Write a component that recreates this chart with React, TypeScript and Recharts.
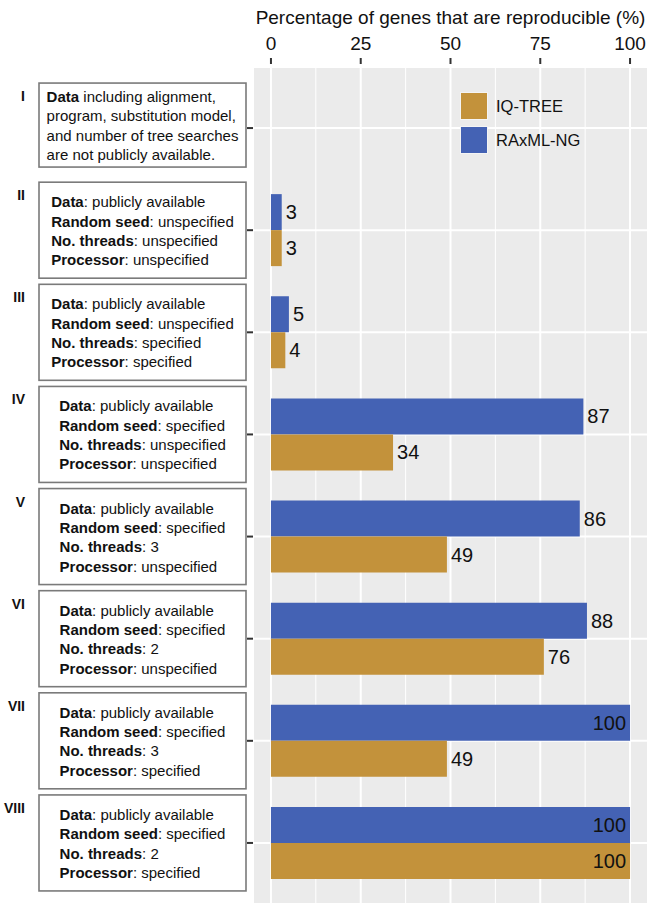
import React from 'react'
import {
  BarChart,
  Bar,
  XAxis,
  YAxis,
  CartesianGrid,
  LabelList,
  Legend,
} from 'recharts'

const CATEGORIES = ['I', 'II', 'III', 'IV', 'V', 'VI', 'VII', 'VIII']
const RAXML = [0, 3, 5, 87, 86, 88, 100, 100]
const IQTREE = [0, 3, 4, 34, 49, 76, 49, 100]
const X_TICKS = [0, 25, 50, 75, 100]
const X_MINOR = [12.5, 37.5, 62.5, 87.5]
const X_DOMAIN: [number, number] = [-5, 105]
const TITLE = 'Percentage of genes that are reproducible (%)'

// Each box line is [bold part, regular part]
const BOX_LINES: [string, string][][] = [
  [
    ['Data', ' including alignment,'],
    ['', 'program, substitution model,'],
    ['', 'and number of tree searches'],
    ['', 'are not publicly available.'],
  ],
  [
    ['Data', ': publicly available'],
    ['Random seed', ': unspecified'],
    ['No. threads', ': unspecified'],
    ['Processor', ': unspecified'],
  ],
  [
    ['Data', ': publicly available'],
    ['Random seed', ': unspecified'],
    ['No. threads', ': specified'],
    ['Processor', ': specified'],
  ],
  [
    ['Data', ': publicly available'],
    ['Random seed', ': specified'],
    ['No. threads', ': unspecified'],
    ['Processor', ': unspecified'],
  ],
  [
    ['Data', ': publicly available'],
    ['Random seed', ': specified'],
    ['No. threads', ': 3'],
    ['Processor', ': unspecified'],
  ],
  [
    ['Data', ': publicly available'],
    ['Random seed', ': specified'],
    ['No. threads', ': 2'],
    ['Processor', ': unspecified'],
  ],
  [
    ['Data', ': publicly available'],
    ['Random seed', ': specified'],
    ['No. threads', ': 3'],
    ['Processor', ': specified'],
  ],
  [
    ['Data', ': publicly available'],
    ['Random seed', ': specified'],
    ['No. threads', ': 2'],
    ['Processor', ': specified'],
  ],
]

const BLUE = '#4462B4'
const GOLD = '#C3923B'
const FONT = '"Liberation Sans", Arial, Helvetica, sans-serif'

const LEGEND_ITEMS = [
  { name: 'IQ-TREE', color: GOLD },
  { name: 'RAxML-NG', color: BLUE },
]

const data = CATEGORIES.map((c, i) => ({
  cat: c,
  raxml: RAXML[i],
  iqtree: IQTREE[i],
}))

let ctx: CanvasRenderingContext2D | null = null
function textWidth(s: string, bold: boolean) {
  if (!ctx) ctx = document.createElement('canvas').getContext('2d')
  if (!ctx) return s.length * 7
  ctx.font = `${bold ? 'bold ' : ''}15px ${FONT}`
  return ctx.measureText(s).width
}

// minor gridlines: map domain values onto the plot width
function minorX(args: any) {
  const xAxis = args?.xAxis
  if (xAxis && typeof xAxis.scale === 'function') return X_MINOR.map((v) => xAxis.scale(v))
  const off = args?.offset || {}
  const left = Number(off.left ?? 253)
  const w = Number(off.width ?? 395)
  return X_MINOR.map((v) => left + ((v - X_DOMAIN[0]) / (X_DOMAIN[1] - X_DOMAIN[0])) * w)
}

const BOX_LEFT = 39
const BOX_RIGHT = 246
const LINE_H = 19.3

function CategoryTick(props: any) {
  const { y, payload, index } = props
  const i = CATEGORIES.indexOf(payload.value)
  const lines = BOX_LINES[i] || []
  const boxH = i === 0 ? 84 : 96
  const cy = i === 0 ? y - 3 : y
  const top = cy - boxH / 2
  const blockW = Math.max(...lines.map(([b, r]) => textWidth(b, true) + textWidth(r, false)))
  const tx = (BOX_LEFT + BOX_RIGHT) / 2 - blockW / 2
  const firstY = cy - ((lines.length - 1) * LINE_H) / 2
  return (
    <g key={index}>
      <line x1={247} x2={253} y1={y} y2={y} stroke="#333" strokeWidth={2} />
      <rect
        x={BOX_LEFT}
        y={top}
        width={BOX_RIGHT - BOX_LEFT}
        height={boxH}
        fill="#fff"
        stroke="#7a7a7a"
        strokeWidth={1.6}
      />
      <text
        x={25}
        y={top + 13}
        textAnchor="end"
        dominantBaseline="central"
        fontFamily={FONT}
        fontWeight="bold"
        fontSize={14}
        fill="#111"
      >
        {payload.value}
      </text>
      {lines.map(([b, r], k) => (
        <text
          key={k}
          x={tx}
          y={firstY + k * LINE_H}
          dominantBaseline="central"
          fontFamily={FONT}
          fontSize={15}
          fill="#111"
        >
          {b && <tspan fontWeight="bold">{b}</tspan>}
          <tspan>{r}</tspan>
        </text>
      ))}
    </g>
  )
}

function PercentTick(props: any) {
  const { x, payload } = props
  return (
    <g>
      <line x1={x} x2={x} y1={58} y2={64} stroke="#333" strokeWidth={2} />
      <text x={x} y={50} textAnchor="middle" fontFamily={FONT} fontSize={19} fill="#111">
        {payload.value}
      </text>
    </g>
  )
}

function ValueLabel(props: any) {
  const { x, y, width, height, value } = props
  const inside = value >= 95
  const end = Number(x) + Number(width)
  return (
    <text
      x={inside ? end - 4 : end + 4}
      y={Number(y) + Number(height) / 2}
      textAnchor={inside ? 'end' : 'start'}
      dominantBaseline="central"
      fontFamily={FONT}
      fontSize={20}
      fill="#111"
    >
      {value}
    </text>
  )
}

function LegendBox() {
  return (
    <div style={{ fontFamily: FONT }}>
      {LEGEND_ITEMS.map((it) => (
        <div key={it.name} style={{ display: 'flex', alignItems: 'center', height: 34 }}>
          <div
            style={{
              width: 26,
              height: 26,
              background: it.color,
              border: '1px solid #f4f4f4',
              marginRight: 8,
            }}
          />
          <span style={{ fontSize: 16.5, color: '#111' }}>{it.name}</span>
        </div>
      ))}
    </div>
  )
}

export default function App() {
  return (
    <div style={{ position: 'absolute', left: 0, top: 0, width: 648, height: 904, background: '#fff' }}>
      <div
        style={{
          position: 'absolute',
          left: 253,
          width: 395,
          top: 7,
          textAlign: 'center',
          fontFamily: FONT,
          fontSize: 19,
          color: '#111',
          whiteSpace: 'nowrap',
        }}
      >
        {TITLE}
      </div>
      <BarChart
        width={648}
        height={904}
        data={data}
        layout="vertical"
        margin={{ top: 0, right: 0, bottom: 0, left: 0 }}
        barGap={0}
        barSize={36}
      >
        <CartesianGrid fill="#EBEBEB" stroke="#fff" strokeWidth={2} />
        <CartesianGrid
          horizontal={false}
          fill="none"
          stroke="#fff"
          strokeWidth={1}
          verticalCoordinatesGenerator={minorX}
        />
        <XAxis
          type="number"
          orientation="top"
          domain={X_DOMAIN}
          ticks={X_TICKS}
          allowDataOverflow
          height={67}
          axisLine={false}
          tickLine={false}
          tick={<PercentTick />}
        />
        <YAxis
          type="category"
          dataKey="cat"
          width={253}
          padding={{ top: 10, bottom: 10 }}
          axisLine={false}
          tickLine={false}
          tick={<CategoryTick />}
          interval={0}
        />
        <Legend
          layout="vertical"
          verticalAlign="middle"
          align="center"
          content={() => <LegendBox />}
          wrapperStyle={{ top: 89, left: 460, width: 'auto', height: 'auto' }}
        />
        <Bar dataKey="raxml" name="RAxML-NG" fill={BLUE} isAnimationActive={false}>
          <LabelList dataKey="raxml" content={<ValueLabel />} />
        </Bar>
        <Bar dataKey="iqtree" name="IQ-TREE" fill={GOLD} isAnimationActive={false}>
          <LabelList dataKey="iqtree" content={<ValueLabel />} />
        </Bar>
      </BarChart>
    </div>
  )
}
